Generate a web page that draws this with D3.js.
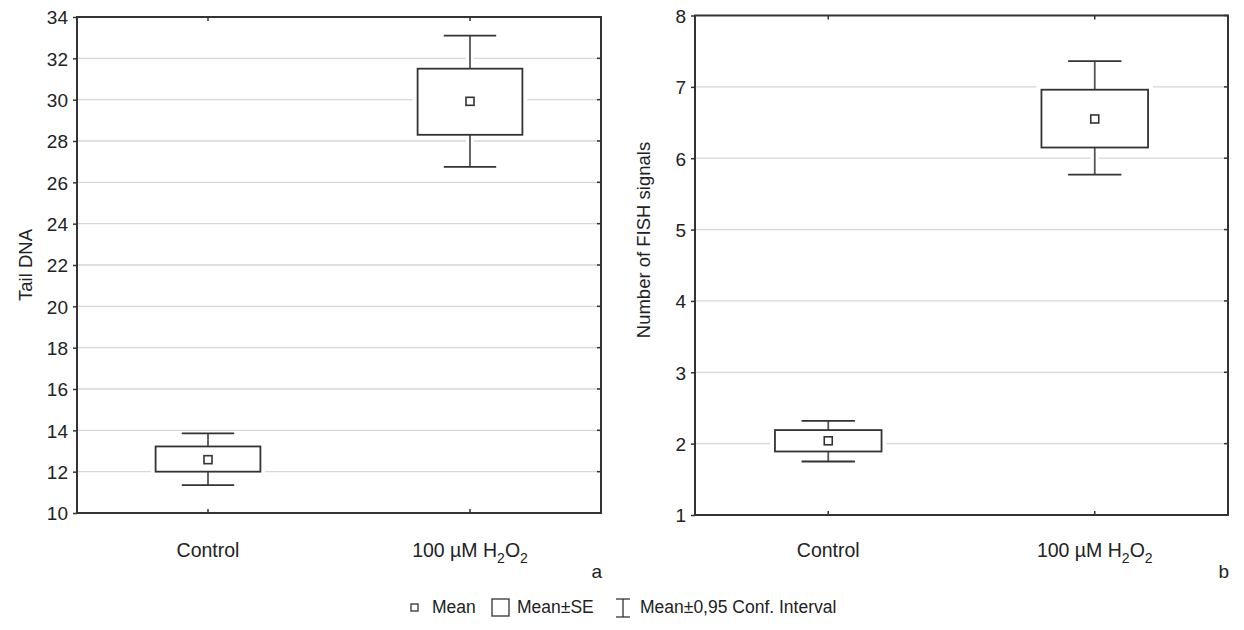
<!DOCTYPE html>
<html>
<head>
<meta charset="utf-8">
<script src="https://cdn.jsdelivr.net/npm/d3@7"></script>
<style>
  body { margin: 0; background: #fff; }
  svg text { font-family: "Liberation Sans", Arial, sans-serif; fill: #222; }
</style>
</head>
<body>
<div id="chart"></div>
<script>
// groups
const groups = ["Control", "100 µM H2O2"];

// panel a: Tail DNA
const tailMean = [12.58, 29.92];
const tailSeLow = [12.0, 28.3];
const tailSeHigh = [13.22, 31.5];
const tailCiLow = [11.35, 26.75];
const tailCiHigh = [13.85, 33.1];
const tailTicks = [10, 12, 14, 16, 18, 20, 22, 24, 26, 28, 30, 32, 34];

// panel b: Number of FISH signals
const fishMean = [2.04, 6.55];
const fishSeLow = [1.89, 6.15];
const fishSeHigh = [2.19, 6.96];
const fishCiLow = [1.75, 5.77];
const fishCiHigh = [2.32, 7.36];
const fishTicks = [1, 2, 3, 4, 5, 6, 7, 8];

const svg = d3.select("#chart").append("svg")
    .attr("width", 1244)
    .attr("height", 630);

const ink = "#333";

function drawPanel(opt) {
    let x = d3.scalePoint().domain(groups).range([opt.left, opt.right]).padding(0.5);
    let y = d3.scaleLinear().domain(opt.domain).range([opt.bottom, opt.top]);
    let g = svg.append("g");

    // grid lines
    g.selectAll(".grid").data(opt.ticks.slice(1, -1)).enter()
        .append("line")
        .attr("x1", opt.left).attr("x2", opt.right)
        .attr("y1", d => y(d)).attr("y2", d => y(d))
        .attr("stroke", "#d6d6d6").attr("stroke-width", 1.3);

    // left axis
    let yAxis = d3.axisLeft(y).tickValues(opt.ticks).tickFormat(d3.format("d"))
        .tickSize(4).tickPadding(5);
    let ay = g.append("g").attr("transform", `translate(${opt.left},0)`).call(yAxis);
    ay.select(".domain").remove();
    ay.selectAll("line").attr("stroke", ink).attr("stroke-width", 1.5);
    ay.selectAll("text").style("font-size", "19px").attr("dy", "0.36em");

    // right axis ticks (inward)
    g.selectAll(".rtick").data(opt.ticks).enter()
        .append("line")
        .attr("x1", opt.right - 4).attr("x2", opt.right)
        .attr("y1", d => y(d)).attr("y2", d => y(d))
        .attr("stroke", ink).attr("stroke-width", 1.5);

    // top/bottom category ticks (inward)
    groups.forEach(c => {
        g.append("line").attr("x1", x(c)).attr("x2", x(c))
            .attr("y1", opt.bottom).attr("y2", opt.bottom - 4)
            .attr("stroke", ink).attr("stroke-width", 1.5);
        g.append("line").attr("x1", x(c)).attr("x2", x(c))
            .attr("y1", opt.top).attr("y2", opt.top + 4)
            .attr("stroke", ink).attr("stroke-width", 1.5);
    });

    // frame
    g.append("rect")
        .attr("x", opt.left).attr("y", opt.top)
        .attr("width", opt.right - opt.left).attr("height", opt.bottom - opt.top)
        .attr("fill", "none").attr("stroke", ink).attr("stroke-width", 2);

    let boxW = x.step() * 0.4;
    let capW = boxW * 0.5;

    groups.forEach((c, i) => {
        let cx = x(c);
        let m = g.append("g");
        // white halo so the grid lines stop short of the marks
        m.append("line").attr("x1", cx).attr("x2", cx)
            .attr("y1", y(opt.ciLow[i])).attr("y2", y(opt.ciHigh[i]))
            .attr("stroke", "#fff").attr("stroke-width", 8);
        m.append("rect")
            .attr("x", cx - boxW / 2).attr("y", y(opt.seHigh[i]))
            .attr("width", boxW).attr("height", y(opt.seLow[i]) - y(opt.seHigh[i]))
            .attr("fill", "#fff").attr("stroke", "#fff").attr("stroke-width", 10);

        // whiskers
        m.append("line").attr("x1", cx).attr("x2", cx)
            .attr("y1", y(opt.ciLow[i])).attr("y2", y(opt.ciHigh[i]))
            .attr("stroke", "#555").attr("stroke-width", 1.8);
        [opt.ciLow[i], opt.ciHigh[i]].forEach(v => {
            m.append("line")
                .attr("x1", cx - capW / 2).attr("x2", cx + capW / 2)
                .attr("y1", y(v)).attr("y2", y(v))
                .attr("stroke", ink).attr("stroke-width", 1.8);
        });

        // SE box
        m.append("rect")
            .attr("x", cx - boxW / 2).attr("y", y(opt.seHigh[i]))
            .attr("width", boxW).attr("height", y(opt.seLow[i]) - y(opt.seHigh[i]))
            .attr("fill", "#fff").attr("stroke", ink).attr("stroke-width", 1.8);

        // mean marker
        m.append("rect")
            .attr("x", cx - 4).attr("y", y(opt.mean[i]) - 4)
            .attr("width", 8).attr("height", 8)
            .attr("fill", "#fff").attr("stroke", ink).attr("stroke-width", 1.6);

        // category label with subscripts
        let t = g.append("text")
            .attr("x", cx).attr("y", 557)
            .attr("text-anchor", "middle")
            .style("font-size", "19.5px");
        if (c === "100 µM H2O2") {
            t.append("tspan").text("100 µM H");
            t.append("tspan").text("2").style("font-size", "14px").attr("dy", 6);
            t.append("tspan").text("O").attr("dy", -6);
            t.append("tspan").text("2").style("font-size", "14px").attr("dy", 6);
        } else {
            t.text(c);
        }
    });

    // axis title
    g.append("text")
        .attr("transform", `translate(${opt.titleX},${opt.titleY}) rotate(-90)`)
        .attr("text-anchor", "middle")
        .style("font-size", "18.5px")
        .text(opt.title);

    // panel letter
    g.append("text")
        .attr("x", opt.right + 1).attr("y", 578)
        .attr("text-anchor", "end")
        .style("font-size", "19px")
        .text(opt.letter);
}

drawPanel({
    left: 77, right: 601, top: 17, bottom: 513,
    domain: [10, 34], ticks: tailTicks,
    mean: tailMean, seLow: tailSeLow, seHigh: tailSeHigh, ciLow: tailCiLow, ciHigh: tailCiHigh,
    title: "Tail DNA", titleX: 32, titleY: 265, letter: "a"
});

drawPanel({
    left: 695, right: 1228, top: 15.5, bottom: 515,
    domain: [1, 8], ticks: fishTicks,
    mean: fishMean, seLow: fishSeLow, seHigh: fishSeHigh, ciLow: fishCiLow, ciHigh: fishCiHigh,
    title: "Number of FISH signals", titleX: 650, titleY: 240, letter: "b"
});

// legend
const legend = svg.append("g").attr("transform", "translate(0,613)");
const lfs = "17.5px";
legend.append("rect").attr("x", 411).attr("y", -9).attr("width", 7).attr("height", 7)
    .attr("fill", "#fff").attr("stroke", ink).attr("stroke-width", 1.3);
legend.append("text").attr("x", 432).attr("y", 0).style("font-size", lfs).text("Mean");
legend.append("rect").attr("x", 492).attr("y", -14).attr("width", 17).attr("height", 17)
    .attr("fill", "#fff").attr("stroke", ink).attr("stroke-width", 1.3);
legend.append("text").attr("x", 517).attr("y", 0).style("font-size", lfs).text("Mean±SE");
legend.append("line").attr("x1", 623).attr("x2", 623).attr("y1", -14).attr("y2", 4)
    .attr("stroke", ink).attr("stroke-width", 1.3);
legend.append("line").attr("x1", 616).attr("x2", 630).attr("y1", -14).attr("y2", -14)
    .attr("stroke", ink).attr("stroke-width", 1.3);
legend.append("line").attr("x1", 616).attr("x2", 630).attr("y1", 4).attr("y2", 4)
    .attr("stroke", ink).attr("stroke-width", 1.3);
legend.append("text").attr("x", 640).attr("y", 0).style("font-size", lfs).text("Mean±0,95 Conf. Interval");
</script>
</body>
</html>
